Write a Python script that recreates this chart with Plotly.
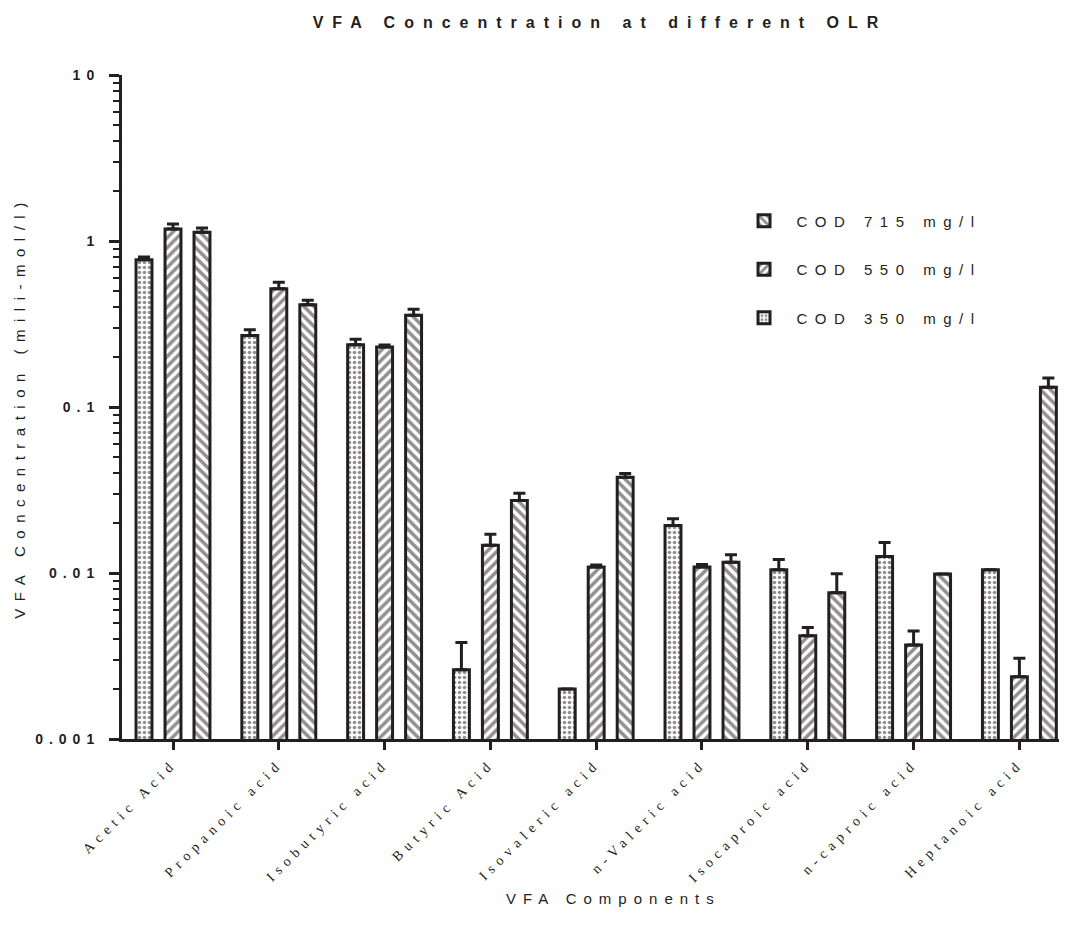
import plotly.graph_objects as go

categories = ["Acetic Acid", "Propanoic acid", "Isobutyric acid", "Butyric Acid",
              "Isovaleric acid", "n-Valeric acid", "Isocaproic acid", "n-caproic acid",
              "Heptanoic acid"]
series_names = ["COD 350 mg/l", "COD 550 mg/l", "COD 715 mg/l"]
cod350 = [0.772, 0.270, 0.237, 0.00261, 0.0020, 0.0193, 0.01047, 0.01259, 0.01047]
cod350_err = [0.03, 0.022, 0.019, 0.0012, 0, 0.0019, 0.0016, 0.0027, 0]
cod550 = [1.181, 0.516, 0.230, 0.01469, 0.01087, 0.01087, 0.00419, 0.00368, 0.00237]
cod550_err = [0.085, 0.048, 0.006, 0.0024, 0.0003, 0.0004, 0.0005, 0.0008, 0.0007]
cod715 = [1.128, 0.413, 0.357, 0.0273, 0.0377, 0.0116, 0.0076, 0.00986, 0.1315]
cod715_err = [0.07, 0.026, 0.031, 0.0029, 0.002, 0.0013, 0.0023, 0, 0.018]
y_tickvals = [0.001, 0.01, 0.1, 1, 10]
y_ticklabels = ["0.001", "0.01", "0.1", "1", "10"]

INK = "#231f20"
patterns = [dict(shape=".", size=5, solidity=0.4),
            dict(shape="/", size=7, solidity=0.5),
            dict(shape="\\", size=7, solidity=0.5)]
ranks = [3, 2, 1]
values = [cod350, cod550, cod715]
errors = [cod350_err, cod550_err, cod715_err]


def spaced(t, px):
    return f'<span style="letter-spacing:{px}px">{t}</span>'


fig = go.Figure()
for name, vals, errs, pat, rk in zip(series_names, values, errors, patterns, ranks):
    fig.add_trace(go.Bar(
        x=categories, y=vals, name=spaced(name, 7.5), legendgroup=name, legendrank=rk,
        marker=dict(color="white",
                    line=dict(color=INK, width=3),
                    pattern=dict(fgcolor=INK, bgcolor="white", fillmode="overlay", **pat)),
        error_y=dict(type="data", array=errs, arrayminus=[0] * len(errs), symmetric=False,
                     color=INK, thickness=3, width=6),
    ))

minor_vals = [d * 10 ** e for e in range(-3, 1) for d in range(2, 10)]

W, H = 1059, 930
fig.update_layout(
    width=W, height=H,
    margin=dict(l=114, r=0, t=67, b=199),
    paper_bgcolor="white", plot_bgcolor="white",
    font=dict(family="Liberation Sans, Arial", color=INK),
    barmode="group", bargap=0.178, bargroupgap=0.45,
    title=dict(text=spaced("<b>VFA Concentration at different OLR</b>", 9),
               x=592 / W, xref="container", xanchor="center",
               y=1 - 14 / H, yref="container", yanchor="middle",
               font=dict(size=16, color=INK)),
    legend=dict(x=0.645, y=0.805, xanchor="left", yanchor="top",
                traceorder="grouped", tracegroupgap=26,
                font=dict(size=15, color=INK), itemwidth=55,
                bgcolor="rgba(0,0,0,0)"),
    showlegend=True,
    annotations=[dict(text=spaced("VFA Components", 7), xref="paper", yref="paper",
                      x=0.5196, y=-0.2395, xanchor="center", yanchor="middle",
                      showarrow=False, font=dict(size=15, color=INK))],
)
fig.update_xaxes(
    type="category", range=[-0.482, 8.45],
    showline=True, linewidth=3, linecolor=INK,
    ticks="outside", ticklen=8, tickwidth=3, tickcolor=INK,
    tickmode="array", tickvals=categories,
    ticktext=[spaced(c, 5.5) for c in categories],
    tickangle=-45, tickfont=dict(family="Liberation Serif, Times New Roman", size=14, color=INK),
    showgrid=False, zeroline=False,
)
fig.update_yaxes(
    type="log", range=[-3, 1],
    showline=True, linewidth=3, linecolor=INK,
    ticks="outside", ticklen=10, tickwidth=3, tickcolor=INK,
    tickmode="array", tickvals=y_tickvals,
    ticktext=[spaced(f"<b>{t}</b>", 6) for t in y_ticklabels],
    ticklabelstandoff=6,
    tickfont=dict(size=14, color=INK),
    minor=dict(tickmode="array", tickvals=minor_vals, ticks="outside", ticklen=6,
               tickwidth=2, tickcolor=INK, showgrid=False),
    showgrid=False, zeroline=False,
    title=dict(text=spaced("VFA Concentration (mili-mol/l)", 7.5),
               font=dict(size=15, color=INK), standoff=6),
)

fig.write_html("out.html")
